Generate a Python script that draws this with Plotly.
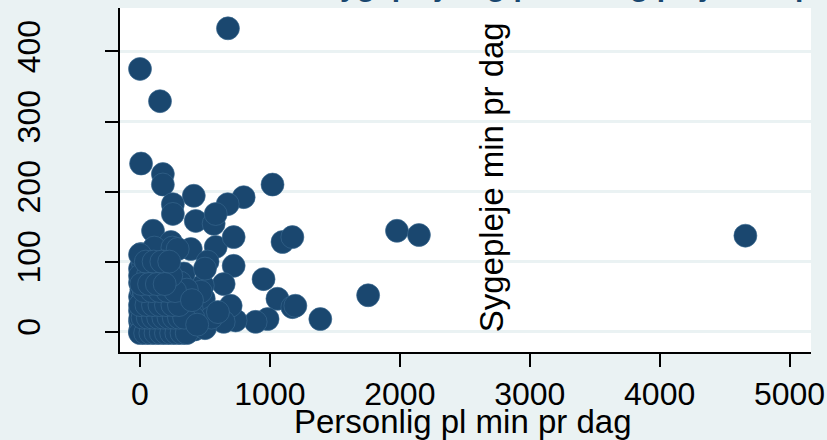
import plotly.graph_objects as go

# Personlig pl min pr dag (x) vs Sygepleje min pr dag (y)
pers_pl = [677, 0, 154, 8, 176, 176, 414, 1020, 798, 675, 253, 253, 429, 567, 583,
           100, 238, 391, 583, 721, 8, 721, 1097, 1173, 1978, 2147, 4660, 951, 644,
           483, 337, 1756, 1058, 1173, 1388, 982, 890, 736, 698, 644, 491, 491, 468,
           1196, 110, 250, 290, 520, 500,
           0, 5, 10, 20, 30, 0, 15, 40, 50, 60, 0, 8, 25, 70, 80, 90, 100, 110, 120,
           0, 10, 30, 0, 15, 40, 60, 80, 100, 130, 150, 160, 170, 180, 200, 210, 230,
           250, 260, 280, 300, 320, 340, 350, 380, 400, 420, 0, 20, 50, 70, 90, 120,
           150, 200, 250, 300, 450, 500, 550, 600, 260, 310, 0, 5, 2, 35, 140, 190,
           240, 290, 330, 180, 220, 360, 410, 60, 130,
           0, 40, 80, 120, 160, 200, 240, 280, 320, 360, 20, 60, 100, 140, 180, 220,
           260, 300, 340, 0, 50, 100, 150, 200, 250, 300, 30, 90, 150, 210, 270,
           0, 60, 120, 180, 240, 45, 105, 165, 225, 10, 70, 130, 190, 400, 440]
sygepl = [433, 375, 329, 240, 225, 210, 194, 210, 192, 182, 182, 168, 158, 154, 168,
          144, 128, 118, 121, 135, 111, 94, 128, 135, 144, 138, 137, 75, 68,
          66, 83, 52, 47, 35, 18, 18, 14, 16, 37, 14, 9, 47, 57,
          37, 120, 120, 118, 100, 90,
          0, 3, 8, 2, 12, 15, 20, 5, 25, 10, 30, 40, 35, 3, 18, 30, 5, 15, 40,
          50, 60, 55, 70, 75, 65, 50, 45, 60, 25, 10, 35, 55, 5, 20, 45, 8,
          30, 3, 15, 40, 8, 25, 5, 12, 30, 3, 90, 100, 85, 95, 80, 70,
          90, 75, 60, 10, 15, 5, 20, 28, 55, 70, 110, 5, 20, 0, 2, 12,
          18, 2, 50, 100, 95, 60, 20, 80, 60,
          -2, -2, -2, -2, -2, -2, -2, -2, -2, -2, 20, 20, 20, 20, 20, 20,
          20, 20, 20, 38, 38, 38, 38, 38, 38, 38, 58, 58, 58, 58, 58,
          80, 80, 80, 80, 80, 100, 100, 100, 100, 68, 68, 68, 68, 45, 10]

navy = "#1A476F"
bg = "#EAF2F3"
font = "Liberation Sans, Arial, sans-serif"

fig = go.Figure(go.Scatter(
    x=pers_pl, y=sygepl, mode="markers",
    marker=dict(size=23, color=navy, line=dict(width=0.6, color="#3A6A90")),
))

fig.update_layout(
    width=827, height=440,
    margin=dict(l=120, r=16, t=8, b=88),
    paper_bgcolor=bg, plot_bgcolor="white",
    font=dict(family=font, size=32, color="black"),
    showlegend=False,
    xaxis=dict(
        range=[-154, 5165], tickvals=[0, 1000, 2000, 3000, 4000, 5000],
        showgrid=False, zeroline=False, showline=True, linecolor="black", linewidth=2,
        ticks="outside", ticklen=13, tickwidth=2, tickcolor="black",
        tickfont=dict(size=32), automargin=False,
    ),
    yaxis=dict(
        range=[-29, 462], tickvals=[0, 100, 200, 300, 400], tickangle=-90,
        showgrid=True, gridcolor=bg, gridwidth=3, zeroline=False,
        showline=True, linecolor="black", linewidth=2,
        ticks="outside", ticklen=13, tickwidth=2, tickcolor="black",
        tickfont=dict(size=32), ticklabelstandoff=52, automargin=False,
    ),
    annotations=[
        dict(text="Sygepleje min pr dag", textangle=-90, xref="paper", yref="paper",
             x=0.537, y=0.508, showarrow=False, font=dict(size=33, color="black")),
        dict(text="Personlig pl min pr dag", xref="paper", yref="paper",
             x=0.497, y=0, yanchor="middle", yshift=-69, showarrow=False,
             font=dict(size=33, color="black")),
        dict(text="<b>Sygepleje og personlig pleje min pr dag</b>", xref="paper", yref="paper",
             x=0.70, xanchor="center", y=1, yanchor="bottom", yshift=4, showarrow=False,
             font=dict(size=30, color=navy)),
    ],
)

fig.write_html("out.html", config={"displayModeBar": False},
               post_script="document.body.style.margin='0';"
                           "document.body.style.background='%s';" % bg)
